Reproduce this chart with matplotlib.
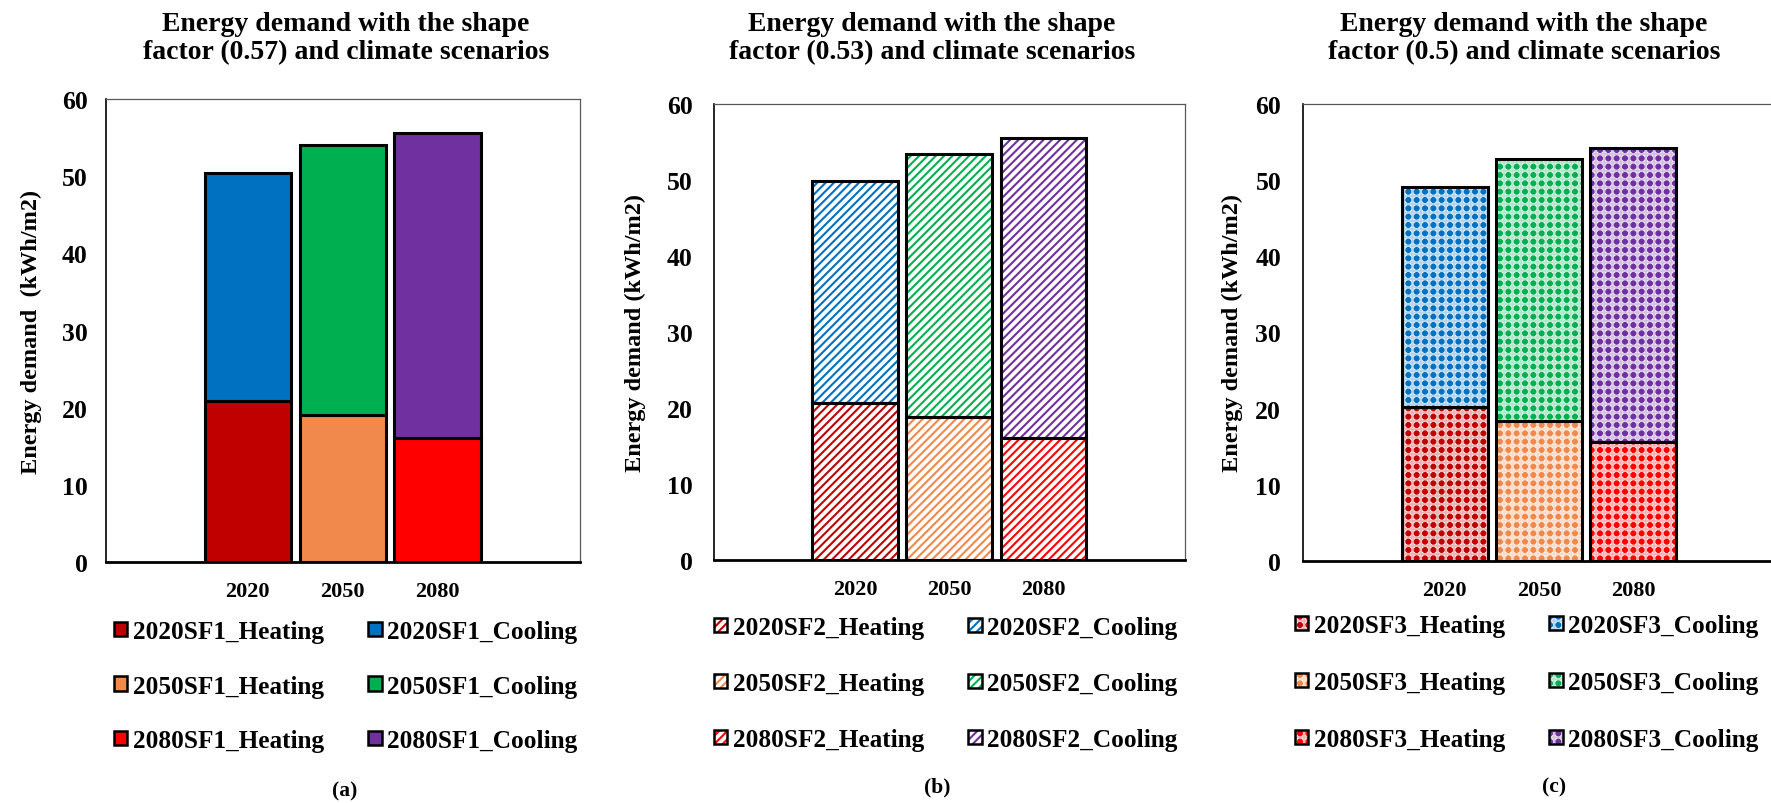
import numpy as np
import matplotlib
matplotlib.use("Agg")
import matplotlib.pyplot as plt
import matplotlib.hatch as mhatch
import matplotlib.colors as mcolors
from matplotlib.path import Path
from matplotlib.patches import Patch

# ---------------- data ----------------
years = ["2020", "2050", "2080"]
heat_sf1 = [20.9, 19.1, 16.1]
cool_sf1 = [29.5, 35.0, 39.5]
heat_sf2 = [20.6, 18.8, 16.1]
cool_sf2 = [29.2, 34.6, 39.4]
heat_sf3 = [20.2, 18.4, 15.6]
cool_sf3 = [28.9, 34.3, 38.6]
shape_factors = ["0.57", "0.53", "0.5"]
sf_names = ["SF1", "SF2", "SF3"]
panel_tags = ["(a)", "(b)", "(c)"]
yticks = [0, 10, 20, 30, 40, 50, 60]

heat_colors = ["#C00000", "#F0894B", "#FF0000"]
cool_colors = ["#0070C0", "#00B050", "#7030A0"]


# square-grid dot hatch (replaces the staggered small-filled-circle pattern)
class SquareDots(mhatch.HatchPatternBase):
    size = 0.24

    def __init__(self, hatch, density):
        self.num_rows = int(hatch.count(".") * density)
        circ = Path.unit_circle()
        self.shape_vertices = circ.vertices
        self.shape_codes = circ.codes
        n = len(self.shape_vertices)
        self.num_vertices = (self.num_rows + 1) ** 2 * n if self.num_rows else 0

    def set_vertices_and_codes(self, vertices, codes):
        offset = 1.0 / self.num_rows
        sv = self.shape_vertices * offset * self.size
        n = len(sv)
        k = 0
        for r in range(self.num_rows + 1):
            for c in range(self.num_rows + 1):
                vertices[k:k + n] = sv + (c * offset, r * offset)
                codes[k:k + n] = self.shape_codes
                k += n


mhatch._hatch_types = [SquareDots if t is mhatch.SmallFilledCircles else t
                       for t in mhatch._hatch_types]

plt.rcParams["font.family"] = ["Liberation Serif", "DejaVu Serif"]
plt.rcParams["font.weight"] = "bold"
plt.rcParams["hatch.linewidth"] = 1.5


def tint(c, f=0.3):
    r, g, b = mcolors.to_rgb(c)
    return (1 - f + f * r, 1 - f + f * g, 1 - f + f * b)


W, H = 1771, 804
fig = plt.figure(figsize=(W / 100, H / 100), dpi=100)


def fx(px):
    return px / W


def fy(py):
    return 1 - py / H


# axes boxes in pixels: left, right, top, bottom
boxes = [(105.6, 579.8, 100, 563.3), (713.7, 1184.8, 104.7, 561), (1303.4, 1774.5, 104.7, 562)]
title_x = [346, 932, 1524]
ylabel_x = [31, 635, 1232]
ytick_pad = [13, 15, 16]
legend_pos = [(113.7, 621), (713.7, 617), (1294.7, 615)]
legend_spacing = [1.25, 1.3, 1.35]
tag_pos = [(344.4, 791.7), (937.5, 787), (1554, 787)]
ylabels = ["Energy demand  (kWh/m2)", "Energy demand (kWh/m2)", "Energy demand (kWh/m2)"]
hatches = [None, "////", ".."]
heats = [heat_sf1, heat_sf2, heat_sf3]
cools = [cool_sf1, cool_sf2, cool_sf3]


def hatched_bars(ax, x, vals, bottom, wbar, cols, hatch):
    if hatch == "..":
        ax.bar(x, vals, wbar, bottom=bottom, color="white", edgecolor=[tint(c) for c in cols],
               hatch="++", linewidth=0, zorder=2)
        ax.bar(x, vals, wbar, bottom=bottom, facecolor="none", edgecolor=cols,
               hatch=hatch, linewidth=0, zorder=2.5)
    else:
        ax.bar(x, vals, wbar, bottom=bottom, color="white", edgecolor=cols,
               hatch=hatch, linewidth=0, zorder=2)
    ax.bar(x, vals, wbar, bottom=bottom, fill=False, edgecolor="black", linewidth=2.2, zorder=3)


def legend_handle(col, hatch):
    if hatch is None:
        return Patch(facecolor=col, edgecolor="black", linewidth=1.8)
    parts = []
    if hatch == "..":
        parts.append(Patch(facecolor="white", edgecolor=tint(col), hatch="++", linewidth=0))
        parts.append(Patch(facecolor="none", edgecolor=col, hatch=hatch, linewidth=0))
    else:
        parts.append(Patch(facecolor="white", edgecolor=col, hatch=hatch, linewidth=0))
    parts.append(Patch(fill=False, edgecolor="black", linewidth=1.8))
    return tuple(parts)


for p in range(3):
    l, r, t, b = boxes[p]
    ax = fig.add_axes([fx(l), fy(b), fx(r - l), (b - t) / H])
    x = np.arange(len(years))
    wbar = 0.91
    heat, cool = heats[p], cools[p]
    hatch = hatches[p]
    if hatch is None:
        ax.bar(x, heat, wbar, color=heat_colors, edgecolor="black", linewidth=2.2, zorder=2)
        ax.bar(x, cool, wbar, bottom=heat, color=cool_colors, edgecolor="black", linewidth=2.2, zorder=2)
    else:
        hatched_bars(ax, x, heat, 0, wbar, heat_colors, hatch)
        hatched_bars(ax, x, cool, heat, wbar, cool_colors, hatch)

    ax.set_xlim(-1.5, 3.5)
    ax.set_ylim(0, 60)
    ax.set_yticks(yticks)
    ax.set_xticks(x)
    ax.set_xticklabels(years, fontsize=16, fontweight="bold")
    ax.tick_params(axis="y", length=0, pad=ytick_pad[p], labelsize=18.5)
    ax.tick_params(axis="x", length=0, pad=13.5)
    for lab in ax.get_yticklabels():
        lab.set_fontweight("bold")
    ax.spines["top"].set_color("#595959")
    ax.spines["right"].set_color("#595959")
    ax.spines["top"].set_linewidth(0.9)
    ax.spines["right"].set_linewidth(0.9)
    ax.spines["left"].set_linewidth(1.2)
    ax.spines["bottom"].set_linewidth(2.0)
    ax.spines["left"].set_color("black")
    ax.spines["bottom"].set_color("black")
    ax.spines["bottom"].set_zorder(4)

    ax.set_ylabel(ylabels[p], fontsize=17.5, fontweight="bold", va="center")
    ax.yaxis.set_label_coords((ylabel_x[p] - l) / (r - l), 0.5)

    fig.text(fx(title_x[p]), fy(38.5),
             "Energy demand with the shape\nfactor (%s) and climate scenarios" % shape_factors[p],
             ha="center", va="center", fontsize=20, fontweight="bold", linespacing=1.2)

    # legend (column-major order: heating column then cooling column)
    handles, labels = [], []
    for kind, cols in (("Heating", heat_colors), ("Cooling", cool_colors)):
        for i, yr in enumerate(years):
            handles.append(legend_handle(cols[i], hatch))
            labels.append("%s%s_%s" % (yr, sf_names[p], kind))
    lx, ly = legend_pos[p]
    fig.legend(handles, labels, loc="upper left", bbox_to_anchor=(fx(lx), fy(ly)),
               ncol=2, frameon=False, handlelength=0.54, handleheight=0.5,
               handletextpad=0.21, columnspacing=1.75, labelspacing=legend_spacing[p],
               borderpad=0, borderaxespad=0, prop={"weight": "bold", "size": 18.2})

    tx, ty = tag_pos[p]
    fig.text(fx(tx), fy(ty), panel_tags[p], ha="center", va="center",
             fontsize=15.5, fontweight="bold")

fig.savefig("out.png", dpi=100)
